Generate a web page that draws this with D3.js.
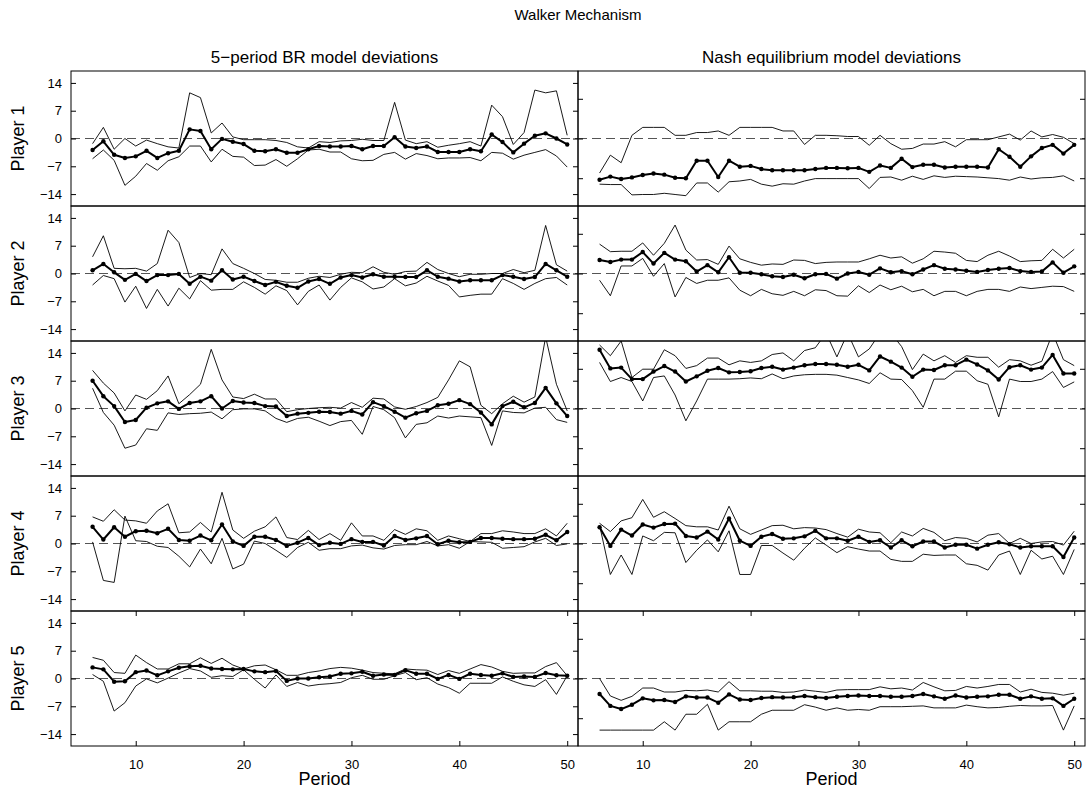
<!DOCTYPE html>
<html>
<head>
<meta charset="utf-8">
<script src="https://cdn.jsdelivr.net/npm/d3@7"></script>
<style>
  body { margin: 0; background: #fff; }
  svg { display: block; }
  text { font-family: "Liberation Sans", Arial, Helvetica, sans-serif; fill: #000; }
</style>
</head>
<body>
<svg id="fig" width="1091" height="791"></svg>
<script>
// Periods shown on the x axis (moving-window estimates start at period 6)
const periods = d3.range(6, 51);
const players = ["Player 1", "Player 2", "Player 3", "Player 4", "Player 5"];
const columnTitles = ["5\u2212period BR model deviations", "Nash equilibrium model deviations"];
const brTicks = [-14, -7, 0, 7, 14];
const nashTicks = [-10, 0, 10];
const periodTicks = [10, 20, 30, 40, 50];

// 5-period best-response model deviations: median, upper and lower bands
const brMedian1 = [-2.9,-0.7,-4.1,-4.9,-4.5,-3.1,-4.9,-3.7,-3.1,2.3,1.9,-2.7,-0.1,-0.8,-1.4,-3.1,-3.2,-2.7,-3.6,-3.6,-2.7,-1.9,-2.0,-2.0,-1.9,-2.7,-1.9,-1.9,0.3,-2.0,-2.4,-2.0,-3.4,-3.4,-3.4,-2.7,-3.2,1.0,-0.9,-3.5,-1.3,0.7,1.3,0.0,-1.5];
const brUpper1 = [-1.3,2.8,-2.7,0,-1.9,-0.4,-1.3,-2.1,-2.4,11.5,10.3,1.4,3.9,0.4,-0.3,-0.3,-0.3,-0.5,-1.0,-2.1,-2.4,-0.8,-1.0,-0.6,-0.5,-0.2,-0.5,-0.5,9.1,-0.4,-1.3,-0.8,-2.2,-1.7,-1.3,-0.8,-1.9,8.4,5.5,-1.5,1.5,12.2,11.5,12.0,0.8];
const brLower1 = [-5.1,-2.9,-5.5,-11.8,-9.5,-6.3,-8.0,-5.6,-4.6,-1.9,-1.9,-5.9,-2.7,-4.5,-4.7,-6.8,-6.7,-5.3,-7.0,-5.1,-2.9,-2.7,-3.4,-3.4,-5.1,-5.6,-5.5,-4.0,-3.5,-5.2,-3.8,-4.3,-5.1,-4.9,-4.9,-4.8,-5.6,-3.5,-3.7,-5.2,-4.2,-3.5,-2.8,-4.4,-7.2];

const brMedian2 = [0.8,2.4,0.3,-1.6,-0.1,-1.9,-0.4,-0.4,-0.1,-2.6,-0.8,-1.8,0.8,-1.5,-0.8,-1.9,-2.9,-2.1,-3.1,-3.6,-2.0,-1.4,-2.6,-1.0,-0.4,-1.0,-0.2,-0.8,-0.8,-0.9,-0.9,0.8,-0.8,-1.3,-2.0,-1.7,-1.7,-1.7,-0.4,-0.8,-1.4,-0.9,2.4,0.8,-0.8];
const brUpper2 = [4.2,9.5,1.3,1.2,1.3,0.6,2.5,10.9,7.8,-1.0,0,-0.3,6.2,2.5,1.3,0,-1.5,-1.7,-2.2,-2.2,-1.2,-0.7,-1.0,-0.2,0.3,0.2,1.7,0.3,-0.2,0.5,0.6,2.8,1.0,0,-0.8,-0.2,-0.2,0,0,1.0,0.2,0.8,12.1,2.2,0.6];
const brLower2 = [-2.9,-0.5,-1.3,-7.2,-3.2,-8.8,-4.0,-8.2,-3.7,-6.4,-1.8,-4.2,-4.0,-4.0,-2.1,-3.5,-5.2,-3.1,-4.3,-7.9,-4.5,-2.9,-6.7,-3.5,-1.1,-2.1,-3.9,-3.4,-1.3,-3.1,-2.4,-0.7,-1.9,-3.0,-5.9,-5.5,-5.2,-5.2,-1.3,-2.5,-4.0,-2.5,-1.3,-1.0,-2.9];

const brMedian3 = [7.0,3.1,0.6,-3.4,-2.9,0.2,1.3,1.8,-0.1,1.4,1.8,3.1,0,1.9,1.5,1.4,0.6,0.5,-1.9,-1.3,-1.1,-0.8,-0.9,-1.3,-0.6,-1.5,1.6,0.6,-0.8,-2.3,-1.2,-0.6,0.8,1.2,2.1,1.1,-1.0,-4.0,0.6,1.7,0.3,1.4,5.2,1.3,-1.9];
const brUpper3 = [9.6,6.4,3.9,-0.6,3.4,2.3,4.5,8.2,1.2,3.5,6.1,14.9,7.2,2.9,2.5,3.6,2.4,2.4,-0.8,-0.3,0,0.2,0.3,0.1,1.5,0.3,2.6,2.4,0.4,-0.2,0.5,1.5,2.8,7.2,12.0,10.5,0.8,-1.3,1.2,3.1,1.6,2.9,18,6.1,-0.6];
const brLower3 = [5.1,-1.0,-4.2,-10.0,-9.2,-5.1,-5.5,-1.1,-1.5,-1.3,-1.2,-0.9,-2.6,-0.3,-0.1,-0.1,-0.6,-2.5,-3.5,-2.5,-2.2,-3.2,-4.3,-3.3,-3.0,-6.5,0.5,-0.3,-2.3,-7.4,-4.0,-3.6,-1.9,-2.4,-1.9,-2.1,-2.3,-9.3,-0.6,-1.0,-1.1,0.1,0.3,-2.8,-3.5];

const brMedian4 = [4.2,1.0,4.1,1.7,3.1,3.2,2.6,3.7,0.9,0.7,2.0,0.8,4.8,0.5,-0.6,1.7,1.7,0.9,-0.6,0.2,1.4,-0.4,0.2,-0.1,1.1,0.4,0.4,-0.5,1.9,0.9,1.3,1.9,-0.2,0.7,0.3,0.4,1.4,1.4,1.2,1.1,1.1,1.2,2.2,0.8,2.9];
const brUpper4 = [6.7,5.6,8.5,5.9,5.7,5.1,8.2,10.0,2.7,2.9,5.3,2.9,12.9,3.4,1.3,3.1,4.2,6.7,1.5,1.0,3.3,1.0,2.5,0.8,5.2,1.9,1.9,0.8,3.5,2.3,3.7,3.2,0.8,1.9,1.2,0.5,2.5,2.5,3.2,2.9,2.5,2.5,3.7,1.9,5.1];
const brLower4 = [0.4,-9.3,-9.8,6.9,0.7,0.5,-0.7,-1.0,-3.2,-5.9,-1.4,-5.1,1.3,-6.4,-5.2,0.6,0,-1.7,-3.5,-1.0,0.3,-1.7,-1.3,-1.3,-0.6,-0.4,-1.1,-1.4,-0.5,-0.3,-0.3,0.5,-0.6,-0.3,-1.2,0.5,0.4,0.3,-1.2,-1.0,-0.8,0.4,1.3,-0.5,-0.1];

const brMedian5 = [2.8,2.3,-0.8,-0.7,1.6,2.0,0.8,1.8,2.7,3.1,3.2,2.5,2.4,2.3,2.4,1.8,1.6,1.9,-0.6,0,0,0.3,0.5,1.2,1.3,1.7,0.7,1.0,0.9,2.1,1.2,1.2,-0.1,0.9,-0.1,1.2,0.9,0.7,1.3,0.4,0.5,0.4,1.4,0.8,0.7];
const brUpper5 = [5.3,4.6,1.5,1.3,5.9,4.0,2.4,2.4,3.7,3.7,5.2,3.8,5.1,3.4,2.4,3.2,3.4,2.2,0.8,0.8,1.5,1.9,2.5,2.8,2.6,2.1,1.5,1.3,1.2,2.4,2.2,2.1,1.0,2.0,1.3,2.4,3.5,2.9,1.8,1.3,1.4,1.4,3.0,4.0,0.7];
const brLower5 = [1.0,-0.7,-8.2,-6.1,-1.9,-0.1,-1.1,0.1,1.4,2.5,1.9,0.3,0.7,0.5,2.2,-0.2,-2.4,0.9,-2.0,-1.0,-1.9,-1.5,-1.3,-1.0,0.2,0.8,-0.2,-0.2,0.7,1.5,-0.3,0.2,-1.4,-2.3,-3.7,-1.2,-1.2,-1.2,0.4,-0.7,-1.6,-2.0,-0.3,-4.0,0.7];

// Nash equilibrium model deviations: median, upper and lower bands
const nashMedian1 = [-10.4,-9.6,-10.2,-9.8,-9.2,-8.8,-9.1,-9.9,-10.0,-5.6,-5.6,-9.7,-5.6,-7.1,-6.9,-7.7,-8.0,-8.0,-8.0,-8.0,-7.7,-7.4,-7.4,-7.5,-7.4,-8.4,-6.8,-7.4,-5.1,-7.2,-6.6,-6.6,-7.3,-7.1,-7.1,-7.1,-7.3,-2.7,-4.6,-7.1,-4.5,-2.4,-1.6,-3.8,-1.6];
const nashUpper1 = [-8.7,-4.2,-6.1,0.8,2.8,2.8,2.8,0.8,0.8,1.5,1.5,1.9,0.8,2.8,2.8,2.8,2.8,1.9,1.9,-1.5,0.8,0.8,0.7,0.5,0.5,-1.7,0.8,-1.3,-2.7,-2.5,-1.4,-1.4,-0.8,-2.1,-0.3,-0.3,-0.3,0.4,1.1,-0.4,1.9,0.4,1.0,0.3,-1.3];
const nashLower1 = [-11.5,-11.6,-11.6,-14.2,-14.1,-14.1,-13.8,-14.1,-14.4,-11.2,-11.2,-13.5,-10.9,-10.7,-10.3,-11.5,-12.0,-11.4,-11.5,-10.7,-10.1,-10.1,-10.1,-10.1,-10.1,-12.6,-9.8,-9.7,-10.5,-9.5,-10.3,-9.4,-9.8,-9.5,-9.6,-9.7,-9.9,-10.1,-10.5,-9.7,-10.2,-9.9,-9.8,-9.4,-10.7];

const nashMedian2 = [3.4,2.9,3.5,3.5,5.4,2.5,5.2,3.5,3.1,0.5,2.1,0.3,4.1,0.2,0.2,-0.2,-0.7,-0.9,-0.3,-1.2,-0.2,-0.1,-1.3,0,0.4,-0.3,1.3,0.3,0.6,-0.2,1.0,2.1,1.2,1.0,0.7,0.4,0.9,1.2,1.4,0.6,0.4,0.5,2.8,0.2,1.8];
const nashUpper2 = [7.4,5.5,5.6,5.6,7.7,4.6,7.6,12.2,5.9,3.4,3.5,2.3,6.9,3.7,2.8,2.1,2.4,2.3,3.4,3.3,2.5,2.8,2.9,2.9,2.9,3.7,4.6,3.9,4.2,2.6,3.7,5.6,5.4,5.1,3.3,3.0,4.6,5.6,4.4,3.0,3.2,3.3,6.1,3.9,6.1];
const nashLower2 = [-1.7,-5.6,1.9,1.9,3.8,-0.7,2.5,-5.9,-1.0,-2.5,-1.7,-1.7,-1.1,-4.2,-5.6,-4.0,-5.1,-5.5,-4.5,-5.6,-4.1,-4.3,-5.6,-5.7,-3.1,-4.8,-2.9,-4.1,-3.2,-4.6,-4.0,-5.6,-4.5,-4.5,-5.6,-4.5,-4.0,-4.0,-4.5,-3.4,-3.8,-3.5,-3.2,-3.3,-4.5];

const nashMedian3 = [14.8,10.1,10.3,7.4,7.4,9.3,10.7,9.3,6.8,8.1,9.5,10.2,9.1,9.2,9.4,10.2,10.5,9.8,10.3,10.9,11.2,11.2,11.0,10.5,11.0,9.6,13.1,11.8,10.3,8.0,9.8,9.7,10.9,10.9,12.3,11.1,9.6,7.3,10.4,10.9,9.8,10.3,13.5,8.8,8.8];
const nashUpper3 = [16.0,13.3,17,7.8,9.9,9.9,14.8,13.3,10.1,10.8,12.7,12.7,11.0,12.0,11.6,12.0,13.6,14.0,12.0,14.6,15.3,19,13.0,19,13.0,15.0,19,19,15.6,9.8,13.7,12.0,13.3,11.6,13.3,12.9,12.9,10.4,12.3,12.0,10.9,11.9,19,12.3,10.8];
const nashLower3 = [11.6,6.8,7.8,6.8,1.9,7.8,8.2,3.4,-3.1,1.9,7.4,7.4,7.4,7.5,7.7,7.5,8.7,7.5,8.2,8.5,8.6,8.6,8.4,7.8,7.2,6.3,9.0,7.4,7.3,4.5,0.3,7.4,7.4,9.4,9.4,7.0,6.1,-2.1,7.4,6.8,6.8,7.4,9.3,5.3,6.7];

const nashMedian4 = [4.1,-0.6,3.5,2.0,4.8,4.0,4.9,5.0,1.9,1.5,3.0,1.0,6.3,0.7,-0.6,1.7,2.4,1.2,1.3,1.8,3.2,1.3,1.3,0.7,1.7,0.4,0.8,-1.0,0.8,-0.7,0.5,0.5,-1.0,-0.3,-0.3,-1.3,-0.3,0.3,-0.2,-1.0,-0.7,-0.7,-0.7,-3.4,1.5];
const nashUpper4 = [5.1,3.0,5.7,6.5,11.1,6.6,8.0,6.3,4.5,4.2,4.2,3.4,9.4,3.7,2.3,3.4,4.5,4.6,3.7,4.0,3.9,3.5,2.5,1.6,3.6,2.9,2.7,0.2,2.9,1.9,3.8,2.8,0.7,1.5,1.3,0.4,2.1,2.5,0,1.3,0,0.4,0.5,-0.4,3.1];
const nashLower4 = [4.6,-7.8,-2.9,-7.8,1.9,0.7,2.8,2.7,-4.8,-1.7,0.9,-2.1,3.2,-7.8,-7.8,-0.5,-0.5,-2.4,-4.2,-1.2,1.4,-0.4,-2.3,-0.8,-1.4,-1.9,-1.9,-4.0,-4.5,-4.5,-2.7,-3.0,-2.9,-2.9,-5.1,-5.5,-6.7,-2.9,-1.9,-7.8,-1.7,-3.9,-3.2,-7.8,-1.5];

const nashMedian5 = [-3.9,-6.9,-7.7,-6.6,-5.0,-5.5,-5.4,-5.9,-4.5,-4.8,-4.8,-6.1,-4.0,-5.3,-5.4,-4.9,-4.7,-4.8,-4.7,-4.4,-4.7,-4.9,-4.6,-4.4,-4.3,-4.4,-4.4,-4.6,-4.6,-4.4,-3.9,-4.5,-5.1,-4.3,-4.8,-4.6,-4.5,-4.1,-4.1,-5.1,-4.5,-5.1,-5.0,-6.9,-5.1];
const nashUpper5 = [0,-4.4,-5.5,-4.5,-2.4,-2.4,-3.4,-3.4,-3.0,-3.1,-2.9,-3.4,-0.8,-3.1,-3.1,-3.2,-3.2,-3.5,-3.4,-2.9,-3.2,-3.5,-2.9,-2.8,-2.8,-2.8,-2.1,-2.6,-2.4,-2.9,-1.0,-2.1,-3.1,-3.0,-2.0,-2.4,-2.0,-1.5,-1.5,-3.4,-2.7,-3.5,-3.7,-4.2,-3.7];
const nashLower5 = [-13.0,-13.0,-13.0,-13.0,-13.0,-13.0,-10.9,-13.0,-9.0,-9.0,-6.5,-13.0,-10.9,-10.9,-10.9,-9.0,-8.0,-8.0,-8.0,-6.6,-7.2,-8.0,-7.4,-8.0,-7.8,-8.0,-7.1,-7.1,-7.1,-7.0,-6.9,-7.4,-7.4,-7.4,-6.7,-7.1,-7.4,-7.3,-7.0,-6.8,-6.9,-6.9,-6.8,-13.0,-6.9];

const brPanels = [
  { mid: brMedian1, hi: brUpper1, lo: brLower1 },
  { mid: brMedian2, hi: brUpper2, lo: brLower2 },
  { mid: brMedian3, hi: brUpper3, lo: brLower3 },
  { mid: brMedian4, hi: brUpper4, lo: brLower4 },
  { mid: brMedian5, hi: brUpper5, lo: brLower5 }
];
const nashPanels = [
  { mid: nashMedian1, hi: nashUpper1, lo: nashLower1 },
  { mid: nashMedian2, hi: nashUpper2, lo: nashLower2 },
  { mid: nashMedian3, hi: nashUpper3, lo: nashLower3 },
  { mid: nashMedian4, hi: nashUpper4, lo: nashLower4 },
  { mid: nashMedian5, hi: nashUpper5, lo: nashLower5 }
];

// ---- layout ----
const svg = d3.select("#fig");
const panelW = 507, panelH = 135;
const colX = [71, 578];
const topY = 71;

const x = d3.scaleLinear().domain([4, 51]).range([0, panelW]);
const y = d3.scaleLinear().domain([-17, 17]).range([panelH, 0]);

const line = d3.line().x((d, i) => x(periods[i])).y(d => y(d));
const fmt = d => d3.format("d")(d);

svg.append("text")
  .attr("x", 578).attr("y", 20)
  .attr("text-anchor", "middle")
  .style("font-size", "15px")
  .text("Walker Mechanism");

columnTitles.forEach((t, c) => {
  svg.append("text")
    .attr("x", colX[c] + panelW / 2).attr("y", 63)
    .attr("text-anchor", "middle")
    .style("font-size", "17px")
    .text(t);
});

function drawPanel(c, r, data, ticks) {
  const g = svg.append("g").attr("transform", `translate(${colX[c]},${topY + r * panelH})`);
  const clipId = `clip-${c}-${r}`;
  g.append("clipPath").attr("id", clipId)
    .append("rect").attr("width", panelW).attr("height", panelH);
  const plot = g.append("g").attr("clip-path", `url(#${clipId})`);

  // zero reference
  plot.append("line")
    .attr("x1", 0).attr("x2", panelW)
    .attr("y1", y(0)).attr("y2", y(0))
    .attr("stroke", "#555").attr("stroke-width", 1)
    .attr("stroke-dasharray", "9,5");

  [data.hi, data.lo].forEach(s => {
    plot.append("path").datum(s)
      .attr("d", line)
      .attr("fill", "none").attr("stroke", "#000").attr("stroke-width", 0.9);
  });

  plot.append("path").datum(data.mid)
    .attr("d", line)
    .attr("fill", "none").attr("stroke", "#000").attr("stroke-width", 2)
    .attr("stroke-linejoin", "round");

  plot.selectAll("circle.pt").data(data.mid).join("circle")
    .attr("class", "pt")
    .attr("cx", (d, i) => x(periods[i]))
    .attr("cy", d => y(d))
    .attr("r", 2.2)
    .attr("fill", "#000");

  // inward y ticks on both sides
  const left = g.append("g").call(
    d3.axisLeft(y).tickValues(ticks).tickSize(-5).tickPadding(9)
      .tickFormat(c === 0 ? fmt : ""));
  const right = g.append("g").attr("transform", `translate(${panelW},0)`).call(
    d3.axisRight(y).tickValues(ticks).tickSize(-5).tickFormat(""));
  [left, right].forEach(a => {
    a.select(".domain").remove();
    a.selectAll("line").attr("stroke", "#000");
    a.selectAll("text").style("font-size", "13px").attr("fill", "#000");
  });

  if (r === 4) {
    const bottom = g.append("g").attr("transform", `translate(0,${panelH})`).call(
      d3.axisBottom(x).tickValues(periodTicks).tickSize(-5).tickPadding(14).tickFormat(fmt));
    const top = g.append("g").call(
      d3.axisTop(x).tickValues(periodTicks).tickSize(-5).tickFormat(""));
    [bottom, top].forEach(a => {
      a.select(".domain").remove();
      a.selectAll("line").attr("stroke", "#000");
      a.selectAll("text").style("font-size", "13px").attr("fill", "#000");
    });
    g.append("text")
      .attr("x", panelW / 2).attr("y", panelH + 39)
      .attr("text-anchor", "middle")
      .style("font-size", "18px")
      .text("Period");
  }

  g.append("rect")
    .attr("width", panelW).attr("height", panelH)
    .attr("fill", "none").attr("stroke", "#000").attr("stroke-width", 1);
}

players.forEach((p, r) => {
  drawPanel(0, r, brPanels[r], brTicks);
  drawPanel(1, r, nashPanels[r], nashTicks);
  svg.append("text")
    .attr("transform", `translate(24,${topY + r * panelH + panelH / 2}) rotate(-90)`)
    .attr("text-anchor", "middle")
    .style("font-size", "18px")
    .text(p);
});
</script>
</body>
</html>
